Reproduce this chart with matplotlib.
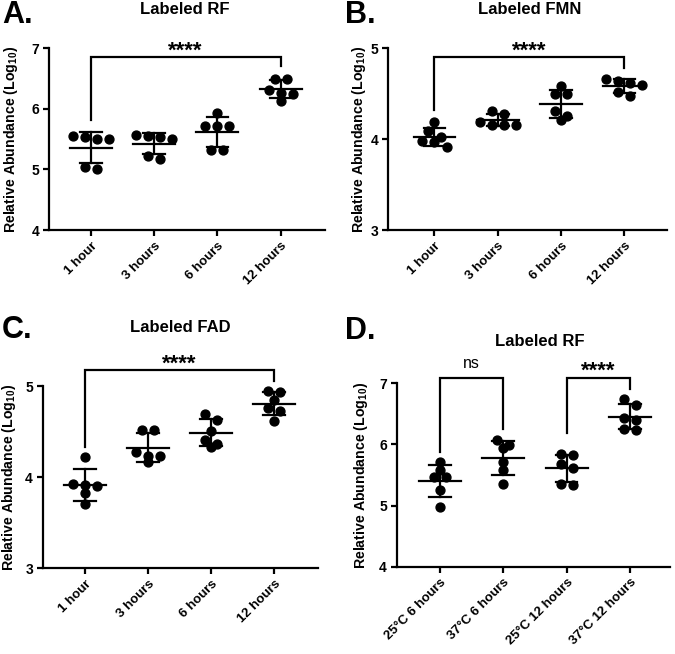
import numpy as np
import matplotlib
matplotlib.use("Agg")
import matplotlib.pyplot as plt

plt.rcParams['font.family'] = ['Liberation Sans', 'DejaVu Sans']
plt.rcParams['mathtext.fontset'] = 'custom'
plt.rcParams['mathtext.bf'] = 'Liberation Sans:bold'
plt.rcParams['mathtext.rm'] = 'Liberation Sans:bold'

# categories
time_labels = ['1 hour', '3 hours', '6 hours', '12 hours']
temp_labels = ['25°C 6 hours', '37°C 6 hours', '25°C 12 hours', '37°C 12 hours']

# log10 relative abundance, six replicates per group
rf_time = [
    [5.50, 5.55, 5.50, 5.54, 5.01, 5.04],
    [5.55, 5.50, 5.53, 5.57, 5.17, 5.23],
    [5.93, 5.72, 5.72, 5.72, 5.32, 5.32],
    [6.50, 6.49, 6.31, 6.26, 6.25, 6.13],
]
fmn_time = [
    [4.19, 4.02, 4.09, 3.98, 3.97, 3.91],
    [4.28, 4.31, 4.16, 4.19, 4.16, 4.16],
    [4.58, 4.50, 4.50, 4.31, 4.21, 4.25],
    [4.64, 4.66, 4.60, 4.62, 4.52, 4.47],
]
fad_time = [
    [4.22, 3.91, 3.93, 3.90, 3.83, 3.70],
    [4.52, 4.52, 4.28, 4.23, 4.23, 4.17],
    [4.63, 4.69, 4.51, 4.41, 4.33, 4.36],
    [4.93, 4.94, 4.85, 4.76, 4.73, 4.62],
]
rf_temp = [
    [5.72, 5.58, 5.46, 5.46, 5.25, 4.98],
    [5.99, 6.08, 5.94, 5.72, 5.58, 5.36],
    [5.83, 5.85, 5.61, 5.68, 5.34, 5.35],
    [6.74, 6.64, 6.40, 6.43, 6.24, 6.25],
]

FIG_W, FIG_H = 675, 654
LW = 1.6


def swarm(vals, px_per_unit, diam_px=8.0, step=0.19):
    # GraphPad-like: points closer than a marker go side by side in one row
    vals = np.asarray(vals)
    order = np.argsort(-vals, kind='stable')
    rows = []
    for i in order:
        if rows and (vals[rows[-1][0]] - vals[i]) * px_per_unit < 0.8 * diam_px:
            rows[-1].append(i)
        else:
            rows.append([i])
    offs = np.zeros(len(vals))
    for row in rows:
        n = len(row)
        for k, i in enumerate(row):
            offs[i] = (k - (n - 1) / 2) * step
    return offs


def bracket(ax, x0, x1, top, y0, y1, label, bold=True, size=16, lift=0.5):
    ax.plot([x0, x0, x1, x1], [y0, top, top, y1], color='black', lw=LW,
            clip_on=False, solid_joinstyle='miter')
    ax.annotate(label, xy=((x0 + x1) / 2, top), xytext=(0, lift),
                textcoords='offset points', ha='center', va='baseline',
                fontsize=size, fontweight='bold' if bold else 'normal',
                annotation_clip=False)


def panel(ax, groups, labels, ylo, yhi, xlim, title, title_xy, letter, letter_xy, ylab_x):
    ax.set_xlim(*xlim)
    ax.set_ylim(ylo, yhi)
    pos = ax.get_position()
    ppu = pos.height * FIG_H / (yhi - ylo)
    for i, vals in enumerate(groups):
        vals = np.asarray(vals)
        x = i + swarm(vals, ppu)
        ax.plot(x, vals, 'o', color='black', ms=6.4, clip_on=False, zorder=3)
        m = vals.mean()
        sd = vals.std(ddof=1)
        ax.plot([i - 0.33, i + 0.33], [m, m], color='black', lw=LW, zorder=4)
        ax.plot([i, i], [m - sd, m + sd], color='black', lw=LW, zorder=4)
        ax.plot([i - 0.17, i + 0.17], [m + sd, m + sd], color='black', lw=LW, zorder=4)
        ax.plot([i - 0.17, i + 0.17], [m - sd, m - sd], color='black', lw=LW, zorder=4)

    ax.set_xticks(range(len(labels)))
    ax.set_xticklabels(labels, rotation=45, ha='right', va='top',
                       rotation_mode='anchor', fontweight='bold', fontsize=9.5)
    ticks = np.arange(ylo, yhi + 0.5, 1)
    ax.set_yticks(ticks)
    ax.set_yticklabels([str(int(v)) for v in ticks], fontweight='bold', fontsize=10)
    for s in ['top', 'right']:
        ax.spines[s].set_visible(False)
    for s in ['left', 'bottom']:
        ax.spines[s].set_linewidth(LW)
    ax.spines['left'].set_bounds(ylo, yhi)
    ax.tick_params(axis='both', width=LW, length=4.5, pad=2.5)
    ax.set_ylabel('Relative Abundance (Log$_{\\mathbf{10}}$)', fontweight='bold',
                  fontsize=10.2)
    ax.yaxis.set_label_coords(ylab_x, 0.5)

    fig.text(title_xy[0] / FIG_W, 1 - title_xy[1] / FIG_H, title, ha='center',
             va='center', fontsize=12, fontweight='bold')
    fig.text(letter_xy[0] / FIG_W, 1 - letter_xy[1] / FIG_H, letter, ha='left',
             va='center', fontsize=22, fontweight='bold')


fig = plt.figure(figsize=(FIG_W / 100, FIG_H / 100), dpi=100)


def axes_px(left, right, top, bottom):
    return fig.add_axes([left / FIG_W, 1 - bottom / FIG_H,
                         (right - left) / FIG_W, (bottom - top) / FIG_H])


axA = axes_px(49, 325, 48.3, 230)
axB = axes_px(388.3, 666.7, 48.3, 230)
axC = axes_px(42.7, 318.3, 386, 568.3)
axD = axes_px(396.7, 670, 383.3, 566.7)

panel(axA, rf_time, time_labels, 4, 7, (-0.66, 3.7), 'Labeled RF', (185, 10),
      'A.', (2, 15), -0.105)
bracket(axA, 0, 3, 6.85, 5.82, 6.70, '****')

panel(axB, fmn_time, time_labels, 3, 5, (-0.73, 3.67), 'Labeled FMN', (530, 10),
      'B.', (345, 15), -0.073)
bracket(axB, 0, 3, 4.90, 4.32, 4.78, '****')

panel(axC, fad_time, time_labels, 3, 5, (-0.67, 3.70), 'Labeled FAD', (180, 328),
      'C.', (2, 330), -0.09)
bracket(axC, 0, 3, 5.175, 4.33, 5.06, '****')

panel(axD, rf_temp, temp_labels, 4, 7, (-0.68, 3.63), 'Labeled RF', (540, 342),
      'D.', (345, 331), -0.098)
bracket(axD, 0, 1, 7.09, 5.88, 6.26, 'ns', bold=False, size=11.5, lift=7)
bracket(axD, 2, 3, 7.09, 6.18, 6.90, '****')

fig.savefig('out.png', dpi=100)
